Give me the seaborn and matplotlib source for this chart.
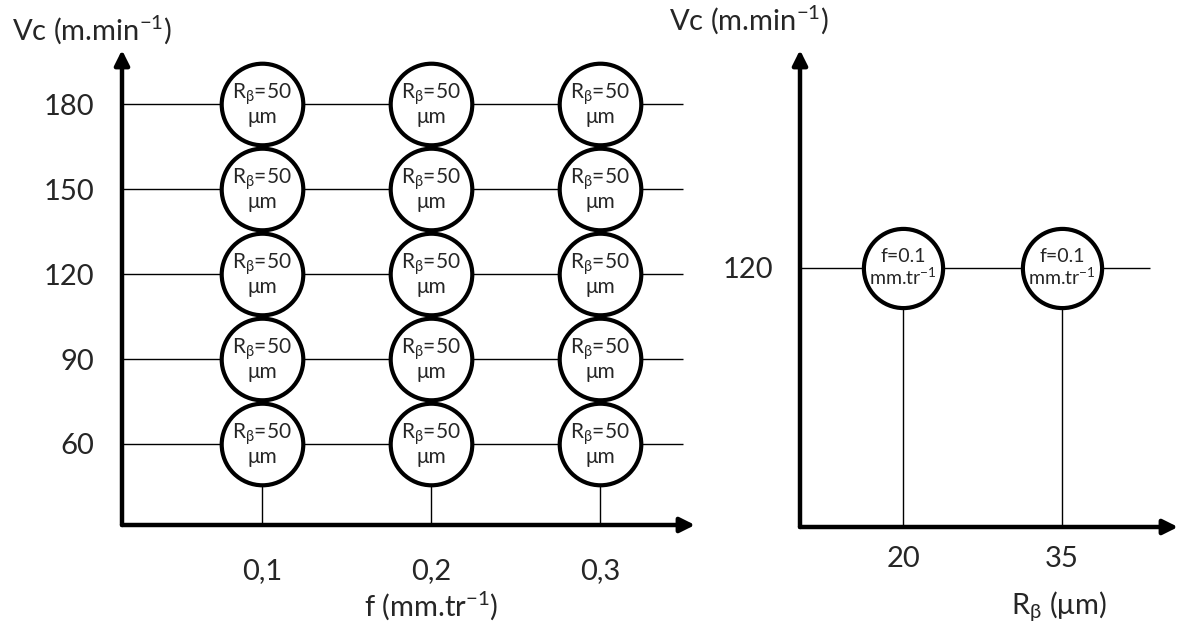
import numpy as np
import pandas as pd
import matplotlib
matplotlib.use("Agg")
import matplotlib.pyplot as plt
import seaborn as sns

# left plan: feed x cutting speed, R_beta fixed
f_vals = [0.1, 0.2, 0.3]
f_labels = ["0,1", "0,2", "0,3"]
vc_vals = [60, 90, 120, 150, 180]
left_text = "R$_{\\mathrm{β}}$=50\nμm"

# right plan: edge radius at fixed Vc
rb_vals = [20, 35]
rb_labels = ["20", "35"]
vc_right = [120]
right_text = "f=0.1\nmm.tr$^{\\mathrm{-1}}$"

sns.set_theme(style="white")
plt.rcParams["font.family"] = ["Lato", "DejaVu Sans"]
plt.rcParams["mathtext.fontset"] = "custom"
plt.rcParams["mathtext.rm"] = "Lato"
plt.rcParams["mathtext.it"] = "Lato"
plt.rcParams["mathtext.bf"] = "Lato"

fig = plt.figure(figsize=(11.81, 6.24), dpi=100)

W, H = 1181, 624


def add_ax(x0, x1, ytop, ybot):
    return fig.add_axes([x0 / W, (H - ybot) / H, (x1 - x0) / W, (ybot - ytop) / H])


def arrows(ax):
    kw = dict(arrowstyle="-|>", lw=3.2, color="black", mutation_scale=22, shrinkA=0, shrinkB=0)
    ax.annotate("", xy=(0, 1), xytext=(0, 0), xycoords="axes fraction", arrowprops=kw)
    ax.annotate("", xy=(1, 0), xytext=(0, 0), xycoords="axes fraction", arrowprops=kw)
    for s in ax.spines.values():
        s.set_visible(False)
    ax.tick_params(length=0, labelsize=21)
    ax.set_facecolor("none")


# ---- left panel
ax1 = add_ax(122, 695, 50, 525)
ax1.set_xlim(0.01716, 0.3562)
ax1.set_ylim(31.4, 199.1)
grid = pd.DataFrame([(f, v) for f in f_vals for v in vc_vals], columns=["f", "Vc"])
ax1.hlines(vc_vals, 0.01716, 0.349, color="black", lw=1.0, zorder=1)
ax1.vlines(f_vals, 31.4, max(vc_vals), color="black", lw=1.0, zorder=1)
sns.scatterplot(data=grid, x="f", y="Vc", s=3450, color="white", edgecolor="black",
                linewidth=3.0, zorder=3, ax=ax1, legend=False)
for f, v in zip(grid["f"], grid["Vc"]):
    ax1.text(f, v, left_text, ha="center", va="center", fontsize=15, zorder=4,
             linespacing=1.0)
arrows(ax1)
ax1.set_xticks(f_vals, f_labels)
ax1.set_yticks(vc_vals, [str(v) for v in vc_vals])
ax1.tick_params(axis="x", pad=24)
ax1.tick_params(axis="y", pad=20)
ax1.set_xlabel("f (mm.tr$^{\\mathrm{-1}}$)", fontsize=21)
ax1.xaxis.set_label_coords(0.54, -0.135)
ax1.set_ylabel("Vc (m.min$^{\\mathrm{-1}}$)", fontsize=21, rotation=0, ha="center", va="center")
ax1.yaxis.set_label_coords(-0.052, 1.042)

# ---- right panel
ax2 = add_ax(800, 1178, 50, 527)
ax2.set_xlim(10.28, 45.94)
ax2.set_ylim(28.6, 196.9)
pts = pd.DataFrame([(r, v) for r in rb_vals for v in vc_right], columns=["Rb", "Vc"])
ax2.hlines(vc_right, 10.28, 43.3, color="black", lw=1.0, zorder=1)
ax2.vlines(rb_vals, 28.6, vc_right[0], color="black", lw=1.0, zorder=1)
sns.scatterplot(data=pts, x="Rb", y="Vc", s=3250, color="white", edgecolor="black",
                linewidth=3.0, zorder=3, ax=ax2, legend=False)
for r, v in zip(pts["Rb"], pts["Vc"]):
    ax2.text(r, v, right_text, ha="center", va="center", fontsize=14, zorder=4,
             linespacing=1.05)
arrows(ax2)
ax2.set_xticks(rb_vals, rb_labels)
ax2.set_yticks(vc_right, [str(v) for v in vc_right])
ax2.tick_params(axis="x", pad=14)
ax2.tick_params(axis="y", pad=19)
ax2.set_xlabel("R$_{\\mathrm{β}}$ (μm)", fontsize=21)
ax2.xaxis.set_label_coords(0.685, -0.13)
ax2.set_ylabel("Vc (m.min$^{\\mathrm{-1}}$)", fontsize=21, rotation=0, ha="center", va="center")
ax2.yaxis.set_label_coords(-0.135, 1.063)

fig.savefig("out.png", dpi=100, facecolor="white")
